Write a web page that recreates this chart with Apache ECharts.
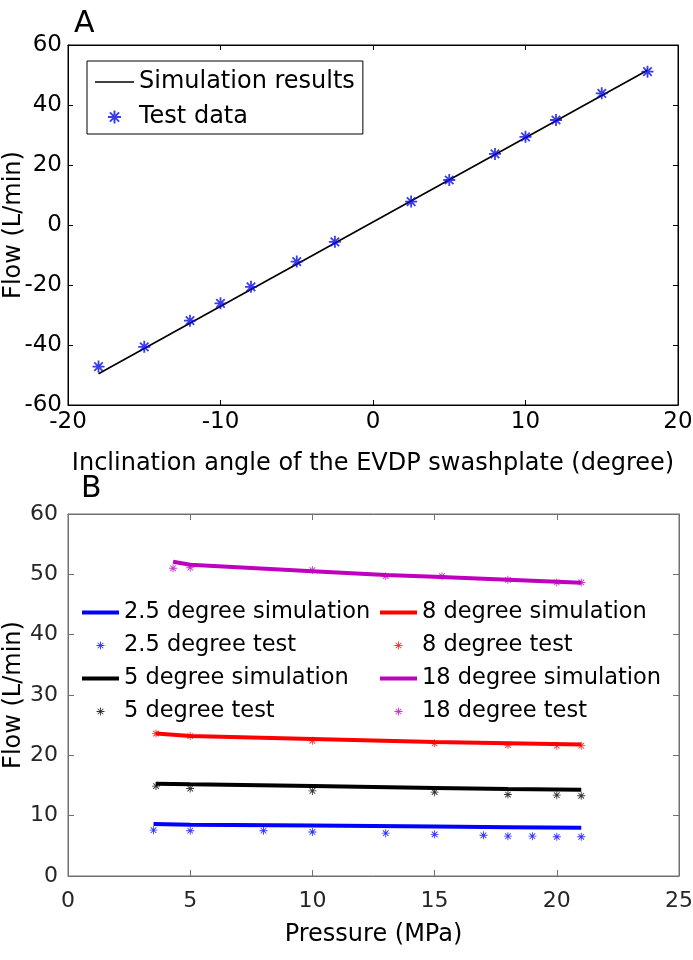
<!DOCTYPE html>
<html><head><meta charset="utf-8">
<script src="https://cdn.jsdelivr.net/npm/echarts@6/dist/echarts.min.js"></script>
<style>html,body{margin:0;padding:0;background:#fff}#c{width:693px;height:960px}</style>
</head><body><div id="c"></div>
<script>
// ---------- Panel A data ----------
const angleTest = [-18, -15, -12, -10, -8, -5, -2.5, 2.5, 5, 8, 10, 12, 15, 18];
const flowTest  = [-47.2, -40.6, -31.9, -26.1, -20.6, -12.2, -5.6, 7.8, 15.0, 23.7, 29.4, 35.0, 43.9, 51.1];
const angleSim  = [-18, 18];
const flowSim   = [-49.6, 51.6];
const xTicksA = [-20, -10, 0, 10, 20];
const yTicksA = [-60, -40, -20, 0, 20, 40, 60];

// ---------- Panel B data ----------
const p25Sim = [3.5, 5, 10, 15, 18, 21];
const f25Sim = [8.6, 8.5, 8.35, 8.2, 8.1, 8.0];
const p25Test = [3.5, 5, 8, 10, 13, 15, 17, 18, 19, 20, 21];
const f25Test = [7.6, 7.5, 7.5, 7.3, 7.1, 6.9, 6.75, 6.6, 6.6, 6.5, 6.5];

const p5Sim = [3.6, 5, 10, 15, 18, 21];
const f5Sim = [15.3, 15.2, 14.9, 14.6, 14.4, 14.3];
const p5Test = [3.6, 5, 10, 15, 18, 20, 21];
const f5Test = [14.9, 14.5, 14.1, 13.9, 13.5, 13.4, 13.3];

const p8Sim = [3.6, 5, 10, 15, 18, 21];
const f8Sim = [23.6, 23.2, 22.7, 22.2, 22.0, 21.8];
const p8Test = [3.6, 5, 10, 15, 18, 20, 21];
const f8Test = [23.6, 23.2, 22.4, 22.0, 21.7, 21.6, 21.6];

const p18Sim = [4.3, 5, 10, 13, 15, 18, 21];
const f18Sim = [52.1, 51.6, 50.5, 49.9, 49.6, 49.1, 48.6];
const p18Test = [4.3, 5, 10, 13, 15.3, 18, 20, 21];
const f18Test = [51.0, 51.1, 50.7, 49.7, 49.7, 49.1, 48.65, 48.65];

const xTicksB = [0, 5, 10, 15, 20, 25];
const yTicksB = [0, 10, 20, 30, 40, 50, 60];

// ---------- helpers ----------
const FONT = 'DejaVu Sans';
const ASTER = 'path://M-1.1,-10L1.1,-10L1.1,10L-1.1,10Z M-10,-1.1L10,-1.1L10,1.1L-10,1.1Z M-7.8,-6.2L-6.2,-7.8L7.8,6.2L6.2,7.8Z M6.2,-7.8L7.8,-6.2L-6.2,7.8L-7.8,6.2Z';
const ASTER_BOLD = 'path://M-1.5,-10L1.5,-10L1.5,10L-1.5,10Z M-10,-1.5L10,-1.5L10,1.5L-10,1.5Z M-8.1,-6L-6,-8.1L8.1,6L6,8.1Z M6,-8.1L8.1,-6L-6,8.1L-8.1,6Z';
const LINE_A = 'path://M0,0L39,0L39,1.6L0,1.6Z';
const LINE_B = 'path://M0,0L37,0L37,4L0,4Z';
const zip = (xs, ys) => xs.map((x, i) => [x, ys[i]]);

function axisCommon(color, show, labelSize, labelColor, margin, tickLen) {
  return {
    axisLine: { show: true, onZero: false, lineStyle: { color: color, width: 1 } },
    axisTick: { show: true, inside: true, length: tickLen, lineStyle: { color: color } },
    axisLabel: { show: show, fontSize: labelSize, color: labelColor, fontFamily: FONT, margin: margin },
    splitLine: { show: false },
    nameMoveOverlap: false
  };
}

const xA = {
  gridIndex: 0, type: 'value', position: 'bottom', min: xTicksA[0], max: xTicksA[xTicksA.length - 1], interval: 10,
  ...axisCommon('#000', true, 23, '#000', 6, 5),
  name: 'Inclination angle of the EVDP swashplate (degree)', nameLocation: 'middle', nameGap: 47,
  nameTextStyle: { fontSize: 24, color: '#000', fontFamily: FONT }
};
const xATop = { gridIndex: 0, type: 'value', position: 'top', min: xTicksA[0], max: xTicksA[xTicksA.length - 1], interval: 10, ...axisCommon('#000', false, 23, '#000', 6, 5) };
const yA = {
  gridIndex: 0, type: 'value', position: 'left', min: yTicksA[0], max: yTicksA[yTicksA.length - 1], interval: 20,
  ...axisCommon('#000', true, 23, '#000', 6, 5),
  name: 'Flow (L/min)', nameLocation: 'middle', nameRotate: 90, nameGap: 42,
  nameTextStyle: { fontSize: 24, color: '#000', fontFamily: FONT }
};
const yARight = { gridIndex: 0, type: 'value', position: 'right', min: yTicksA[0], max: yTicksA[yTicksA.length - 1], interval: 20, ...axisCommon('#000', false, 23, '#000', 6, 5) };

const GB = '#707070';
const xB = {
  gridIndex: 1, type: 'value', position: 'bottom', min: xTicksB[0], max: xTicksB[xTicksB.length - 1], interval: 5,
  ...axisCommon(GB, true, 22, '#262626', 14, 6),
  name: 'Pressure (MPa)', nameLocation: 'middle', nameGap: 47,
  nameTextStyle: { fontSize: 24, color: '#000', fontFamily: FONT }
};
const xBTop = { gridIndex: 1, type: 'value', position: 'top', min: xTicksB[0], max: xTicksB[xTicksB.length - 1], interval: 5, ...axisCommon(GB, false, 22, '#262626', 10, 6) };
const yB = {
  gridIndex: 1, type: 'value', position: 'left', min: yTicksB[0], max: yTicksB[yTicksB.length - 1], interval: 10,
  ...axisCommon(GB, true, 22, '#262626', 10, 6),
  name: 'Flow (L/min)', nameLocation: 'middle', nameRotate: 90, nameGap: 42,
  nameTextStyle: { fontSize: 24, color: '#000', fontFamily: FONT }
};
const yBRight = { gridIndex: 1, type: 'value', position: 'right', min: yTicksB[0], max: yTicksB[yTicksB.length - 1], interval: 10, ...axisCommon(GB, false, 22, '#262626', 10, 6) };

function simB(name, color, xs, ys) {
  return { name, type: 'line', xAxisIndex: 2, yAxisIndex: 2, data: zip(xs, ys), symbol: 'none',
    lineStyle: { color, width: 4 }, itemStyle: { color }, z: 2, silent: true };
}
function testB(name, color, xs, ys) {
  return { name, type: 'scatter', xAxisIndex: 2, yAxisIndex: 2, data: zip(xs, ys), symbol: ASTER,
    symbolSize: 8, itemStyle: { color }, z: 3, silent: true };
}

const BLUE = '#0000ff', RED = '#ff0000', BLACK = '#000000', MAG = '#bf00bf';

const option = {
  animation: false,
  backgroundColor: '#fff',
  textStyle: { fontFamily: FONT },
  title: [
    { text: 'A', left: 74, top: 9, padding: 0, textStyle: { fontSize: 30, fontWeight: 'normal', color: '#000', fontFamily: FONT } },
    { text: 'B', left: 81, top: 474, padding: 0, textStyle: { fontSize: 30, fontWeight: 'normal', color: '#000', fontFamily: FONT } }
  ],
  grid: [
    { left: 68, top: 45, width: 610, height: 360, containLabel: false, outerBoundsMode: 'none',
      show: true, borderColor: '#000', borderWidth: 1, backgroundColor: 'transparent' },
    { left: 68, top: 514, width: 611, height: 362, containLabel: false, outerBoundsMode: 'none',
      show: true, borderColor: GB, borderWidth: 1, backgroundColor: 'transparent' }
  ],
  xAxis: [xA, xATop, xB, xBTop],
  yAxis: [yA, yARight, yB, yBRight],
  legend: [
    { left: 87, top: 61, orient: 'vertical', padding: [8, 8, 4, 8], borderColor: '#000', borderWidth: 1,
      itemWidth: 39, itemHeight: 13, itemGap: 9, selectedMode: false, backgroundColor: '#fff',
      textStyle: { fontSize: 24, lineHeight: 26, color: '#000', fontFamily: FONT },
      data: [{ name: 'Simulation results', icon: LINE_A }, { name: 'Test data', icon: ASTER_BOLD }] },
    { left: 82, top: 601, orient: 'vertical', padding: 0, itemWidth: 37, itemHeight: 8, itemGap: 10, selectedMode: false,
      textStyle: { fontSize: 22.5, lineHeight: 23, color: '#000', fontFamily: FONT },
      data: [{ name: '2.5 degree simulation', icon: LINE_B }, { name: '2.5 degree test', icon: ASTER },
             { name: '5 degree simulation', icon: LINE_B }, { name: '5 degree test', icon: ASTER }] },
    { left: 380, top: 601, orient: 'vertical', padding: 0, itemWidth: 37, itemHeight: 8, itemGap: 10, selectedMode: false,
      textStyle: { fontSize: 22.5, lineHeight: 23, color: '#000', fontFamily: FONT },
      data: [{ name: '8 degree simulation', icon: LINE_B }, { name: '8 degree test', icon: ASTER },
             { name: '18 degree simulation', icon: LINE_B }, { name: '18 degree test', icon: ASTER }] }
  ],
  series: [
    { name: 'Simulation results', type: 'line', xAxisIndex: 0, yAxisIndex: 0, data: zip(angleSim, flowSim),
      symbol: 'none', lineStyle: { color: '#000', width: 1.6 }, itemStyle: { color: '#000' }, z: 2, silent: true },
    { name: 'Test data', type: 'scatter', xAxisIndex: 0, yAxisIndex: 0, data: zip(angleTest, flowTest),
      symbol: ASTER_BOLD, symbolSize: 12, itemStyle: { color: '#0a0ae6' }, z: 3, silent: true },
    simB('2.5 degree simulation', BLUE, p25Sim, f25Sim),
    testB('2.5 degree test', BLUE, p25Test, f25Test),
    simB('5 degree simulation', BLACK, p5Sim, f5Sim),
    testB('5 degree test', BLACK, p5Test, f5Test),
    simB('8 degree simulation', RED, p8Sim, f8Sim),
    testB('8 degree test', RED, p8Test, f8Test),
    simB('18 degree simulation', MAG, p18Sim, f18Sim),
    testB('18 degree test', MAG, p18Test, f18Test)
  ]
};

const chart = echarts.init(document.getElementById('c'), null, { renderer: 'canvas', width: 693, height: 960 });
chart.setOption(option);
</script>
</body></html>
